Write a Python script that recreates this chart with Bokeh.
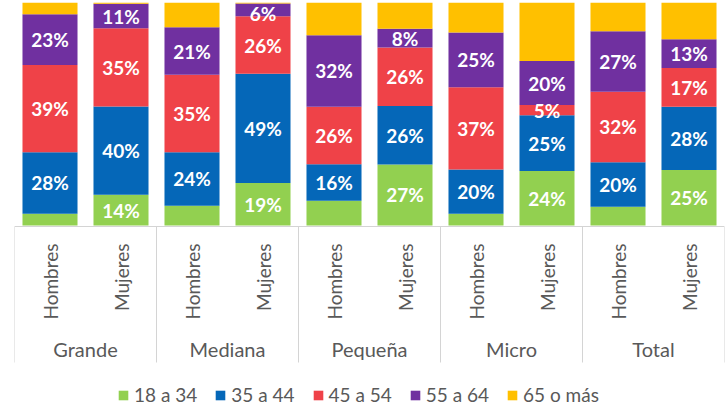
import math
from bokeh.plotting import figure
from bokeh.models import ColumnDataSource, Range1d
from bokeh.core.properties import value
from bokeh.embed import file_html
from bokeh.resources import INLINE

# ---------------- data ----------------
groups = ["Grande", "Mediana", "Pequeña", "Micro", "Total"]
subgroups = ["Hombres", "Mujeres"]
series = ["18 a 34", "35 a 44", "45 a 54", "55 a 64", "65 o más"]
colors = ["#92D050", "#0567B8", "#EF4248", "#7030A0", "#FFC000"]

v_18_34 = [5.3, 13.8, 8.9, 19.1, 11.1, 27.4, 5.3, 24.4, 8.4, 24.9]
v_35_44 = [27.6, 39.6, 24.0, 48.9, 16.4, 26.2, 19.8, 25.0, 20.0, 28.4]
v_45_54 = [39.1, 35.0, 34.7, 25.8, 25.8, 26.2, 36.9, 4.6, 31.6, 17.3]
v_55_64 = [22.7, 11.0, 21.3, 5.7, 32.0, 8.4, 24.6, 19.8, 27.1, 12.9]
v_65_mas = [5.3, 0.6, 11.1, 0.5, 14.7, 11.8, 13.4, 26.2, 12.9, 16.5]

# labels shown: yellow never, green only for Mujeres
labeled_series = [0, 1, 2, 3]
green_hidden_for = "Hombres"

# ---------------- layout helpers ----------------
W, H = 728, 408
BORDER_L, BORDER_R, BORDER_T = 14, 4, 2
TOP_PX = BORDER_T   # pixel of 100 %
ZERO_PX = 225       # pixel of 0 %
BOT_PX = H          # frame bottom
scale = (ZERO_PX - TOP_PX) / 100.0
LABEL_MAX_Y = 95.0  # keep value labels inside the canvas


def y_of(px):
    return (ZERO_PX - px) / scale


values = [v_18_34, v_35_44, v_45_54, v_55_64, v_65_mas]
n = len(groups) * len(subgroups)
xs = [i + 0.5 for i in range(n)]
sub_of_bar = [subgroups[i % 2] for i in range(n)]

data = {"x": xs}
for name, vals in zip(series, values):
    data[name] = vals
source = ColumnDataSource(data)

p = figure(width=W, height=H, output_backend="svg", toolbar_location=None,
           x_range=Range1d(0, n), y_range=Range1d(y_of(BOT_PX), 100),
           min_border_left=BORDER_L, min_border_right=BORDER_R,
           min_border_top=BORDER_T, min_border_bottom=0)
p.xaxis.visible = False
p.yaxis.visible = False
p.xgrid.visible = False
p.ygrid.visible = False
p.outline_line_color = None
p.background_fill_color = "white"

GRID = "#D4D4D4"
TXT = "#595959"
FONT = "Lato"

# category-axis frame lines
p.segment(x0=[0], x1=[n], y0=[y_of(ZERO_PX + 1)], y1=[y_of(ZERO_PX + 1)],
          line_color=GRID, line_width=1)
bounds = [g * len(subgroups) for g in range(len(groups) + 1)]
p.segment(x0=bounds, x1=bounds, y0=[y_of(ZERO_PX + 1)] * len(bounds),
          y1=[y_of(362)] * len(bounds), line_color=GRID, line_width=1)

# stacked bars
p.vbar_stack(series, x="x", width=0.775, color=colors, source=source,
             line_color=None, legend_label=series)

# value labels
lx, ly, lt = [], [], []
for b in range(n):
    base = 0.0
    for s in range(len(series)):
        v = values[s][b]
        show = s in labeled_series and not (s == 0 and sub_of_bar[b] == green_hidden_for)
        if show:
            lx.append(xs[b])
            ly.append(min(base + v / 2.0, LABEL_MAX_Y))
            lt.append(f"{round(v)}%")
        base += v
p.text(x=lx, y=ly, text=lt, text_color="white", text_font=value(FONT),
       text_font_style="bold", text_font_size="19px",
       text_align="center", text_baseline="middle")

# sub-category labels (vertical)
p.text(x=xs, y=[y_of(243)] * n, text=sub_of_bar, angle=math.pi / 2,
       text_color=TXT, text_font=value(FONT), text_font_size="19px",
       text_align="right", text_baseline="middle")

# group labels
gx = [g * 2 + 1 for g in range(len(groups))]
p.text(x=gx, y=[y_of(348)] * len(groups), text=groups,
       text_color=TXT, text_font=value(FONT), text_font_size="20px",
       text_align="center", text_baseline="middle")

# legend
lg = p.legend[0]
lg.orientation = "horizontal"
lg.location = (103, 2)
lg.padding = 0
lg.margin = 0
lg.spacing = 17
lg.label_standoff = 5
lg.glyph_width = 12
lg.glyph_height = 12
lg.border_line_color = None
lg.background_fill_alpha = 0
lg.label_text_font = FONT
lg.label_text_font_size = "19px"
lg.label_text_color = TXT

open("out.html", "w").write(file_html(p, INLINE))
